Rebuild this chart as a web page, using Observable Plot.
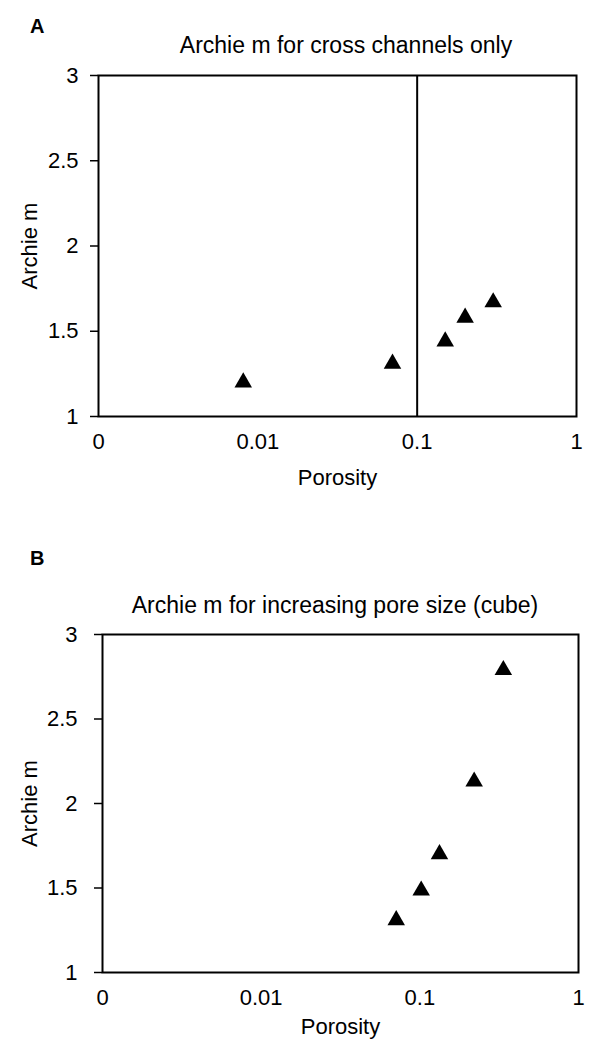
<!DOCTYPE html>
<html><head><meta charset="utf-8">
<script src="https://cdn.jsdelivr.net/npm/d3@7"></script>
<script src="https://cdn.jsdelivr.net/npm/@observablehq/plot@0.6"></script>
<style>
body{margin:0;background:#fff;font-family:"Liberation Sans",Arial,sans-serif;color:#000;}
#root{position:relative;width:590px;height:1043px;overflow:hidden;}
.tag{position:absolute;font-weight:bold;font-size:20px;line-height:20px;}
.title{position:absolute;font-size:23px;line-height:23px;transform:translateX(-50%);white-space:nowrap;}
.panel{position:absolute;left:0;}
</style></head><body>
<div id="root">
<div class="tag" style="left:30px;top:16px">A</div>
<div class="title" style="left:346px;top:34px">Archie m for cross channels only</div>
<div class="panel" id="pa" style="top:60px"></div>
<div class="tag" style="left:30px;top:548px">B</div>
<div class="title" style="left:335px;top:594px">Archie m for increasing pore size (cube)</div>
<div class="panel" id="pb" style="top:619px"></div>
</div>
<script>
const porosityA = [0.0081, 0.070, 0.15, 0.20, 0.30];
const archieA = [1.20, 1.31, 1.44, 1.58, 1.67];
const porosityB = [0.071, 0.102, 0.133, 0.22, 0.336];
const archieB = [1.31, 1.485, 1.70, 2.13, 2.79];
const xTicks = [0.001, 0.01, 0.1, 1];
const xTickLabels = ["0", "0.01", "0.1", "1"];
const yTicks = [1, 1.5, 2, 2.5, 3];
const dividerA = [0.1];
const dividerB = [];

function panel(px, py, rules, ml, mr, plotH, tickPad, mb, lblOff) {
  const data = px.map((x, i) => ({x, y: py[i]}));
  return Plot.plot({
    width: 590,
    height: 15 + plotH + mb,
    marginLeft: ml, marginRight: mr, marginTop: 15, marginBottom: mb,
    style: {fontFamily: "Liberation Sans, Arial, sans-serif", fontSize: "22px", color: "black", background: "white", overflow: "visible"},
    x: {type: "log", domain: [0.001, 1]},
    y: {domain: [1, 3]},
    marks: [
      Plot.frame({stroke: "black", strokeWidth: 2}),
      Plot.ruleX(rules, {stroke: "black", strokeWidth: 2}),
      Plot.axisX({ticks: xTicks, tickFormat: d => xTickLabels[xTicks.indexOf(d)], tickSize: 0, tickPadding: 17, fontSize: 22, label: "Porosity", labelAnchor: "center", labelOffset: lblOff, labelArrow: "none"}),
      Plot.axisY({ticks: yTicks, tickFormat: d => String(d), tickSize: 8, strokeWidth: 1.5, tickPadding: tickPad, fontSize: 22, label: "Archie m", labelAnchor: "center", labelOffset: ml - 21, labelArrow: "none"}),
      Plot.dot(data, {x: "x", y: "y", symbol: "triangle", r: 6.5, fill: "black"})
    ]
  });
}
document.getElementById("pa").append(panel(porosityA, archieA, dividerA, 98, 14, 341, 12, 80, 68));
document.getElementById("pb").append(panel(porosityB, archieB, dividerB, 102, 12, 338, 17, 68, 61));
</script>
</body></html>
